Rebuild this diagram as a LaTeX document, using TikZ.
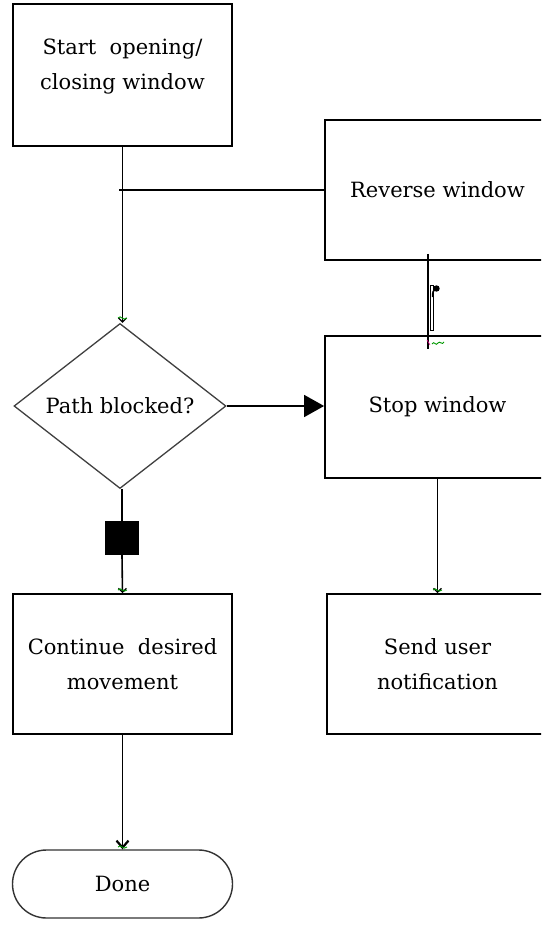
\documentclass[tikz,border=0pt]{standalone}
\usepackage{fontspec}
\setmainfont{DejaVu Serif}
\usetikzlibrary{arrows.meta,shapes.geometric}

\tikzset{
  box/.style={draw, line width=1.8pt, rectangle, align=center,
    font=\fontsize{21}{35}\selectfont, inner sep=0pt},
  boxtext/.style={align=center, font=\fontsize{21}{35}\selectfont, inner sep=0pt},
  decision/.style={draw, line width=1.3pt, diamond, inner sep=0pt,
    font=\fontsize{21}{35}\selectfont, color=black!75, text=black},
  terminal/.style={draw, line width=1.4pt, rectangle, rounded corners=34pt,
    font=\fontsize{21}{35}\selectfont, inner sep=0pt, color=black!80, text=black},
  link/.style={line width=1.6pt},
  smalltip/.style={link, -{Straight Barb[length=4pt,width=8pt,line width=1.2pt]}},
  bigtip/.style={link, -{Triangle[length=20pt,width=22pt]}},
  endtip/.style={link, -{Straight Barb[length=7pt,width=12pt,line width=2.2pt]}},
  pointmark/.style={green!60!black, line width=0.9pt},
}

\begin{document}
\begin{tikzpicture}[x=1pt,y=-1pt]
\useasboundingbox (0,0) rectangle (541,929);
\clip (0,0) rectangle (541,929);
\fill[white] (0,0) rectangle (541,929);

% process boxes
\node[box, minimum width=219pt, minimum height=142pt] (start) at (122.5,75) {};
\node[boxtext] (starttext) at (122.5,67) {Start\ \ opening/\\closing window};
\node[box, minimum width=225pt, minimum height=140pt] (reverse) at (437.5,190)
  {Reverse window};
\node[box, minimum width=225pt, minimum height=142pt] (stop) at (437.5,407)
  {Stop window};
\node[box, minimum width=221pt, minimum height=140pt] (notify) at (437.5,664)
  {Send user\\notification};
\node[box, minimum width=219pt, minimum height=140pt] (continue) at (122.5,664)
  {Continue\ \ desired\\movement};

% decision and terminal
\node[decision, minimum width=212pt, minimum height=158pt] (blocked) at (120,406)
  {Path blocked?};
\node[terminal, minimum width=220pt, minimum height=68pt] (done) at (122.5,884)
  {Done};

% start to decision, with the branch from the reversing step
\coordinate (junction) at (119,190);
\draw[link] (junction) -- (reverse.west |- junction);
\draw[smalltip] (start.south) -- (start.south |- blocked.north);

% decision to stop
\draw[bigtip] (blocked.east) -- (blocked.east -| stop.west);

% decision to continue, through the marker block
\node[fill=black, minimum size=34pt, inner sep=0pt] (flag) at (122,538) {};
\draw[link] (flag.north |- blocked.south) -- (flag.north);
\draw[smalltip] (flag.south) -- (continue.north);

% continue to done
\draw[endtip] (continue.south) -- (done.north);

% stop to notification
\draw[smalltip] (stop.south) -- (notify.north);

% reverse to stop: heavy connector with its hook
\draw[line width=2.8pt] ([xshift=-9.5pt,yshift=7pt]reverse.south)
  -- ([xshift=-9.5pt,yshift=-14pt]stop.north);
\draw[line width=0.8pt, fill=white] (430.5,285) rectangle (433.5,330);
\fill (436.5,288.5) circle (3.2pt);
\draw[line width=1.4pt] (436,289) .. controls (433,290) and (432.5,292) .. (432.5,297);

% connection point marks
\draw[pointmark] (118,318) .. controls (121,314) and (123,322) .. (127,318);
\draw[pointmark] (118,590) .. controls (121,586) and (123,594) .. (127,590);
\draw[pointmark] (433,590) .. controls (436,586) and (438,594) .. (442,590);
\draw[pointmark] (432,344) .. controls (434,340) and (436,347) .. (438,343)
  .. controls (440,340) and (442,346) .. (444,342);
\draw[magenta, line width=0.6pt] (427,340) -- (430,345);
\draw[pointmark] (118,847) .. controls (121,843) and (123,851) .. (127,847);
\end{tikzpicture}
\end{document}
